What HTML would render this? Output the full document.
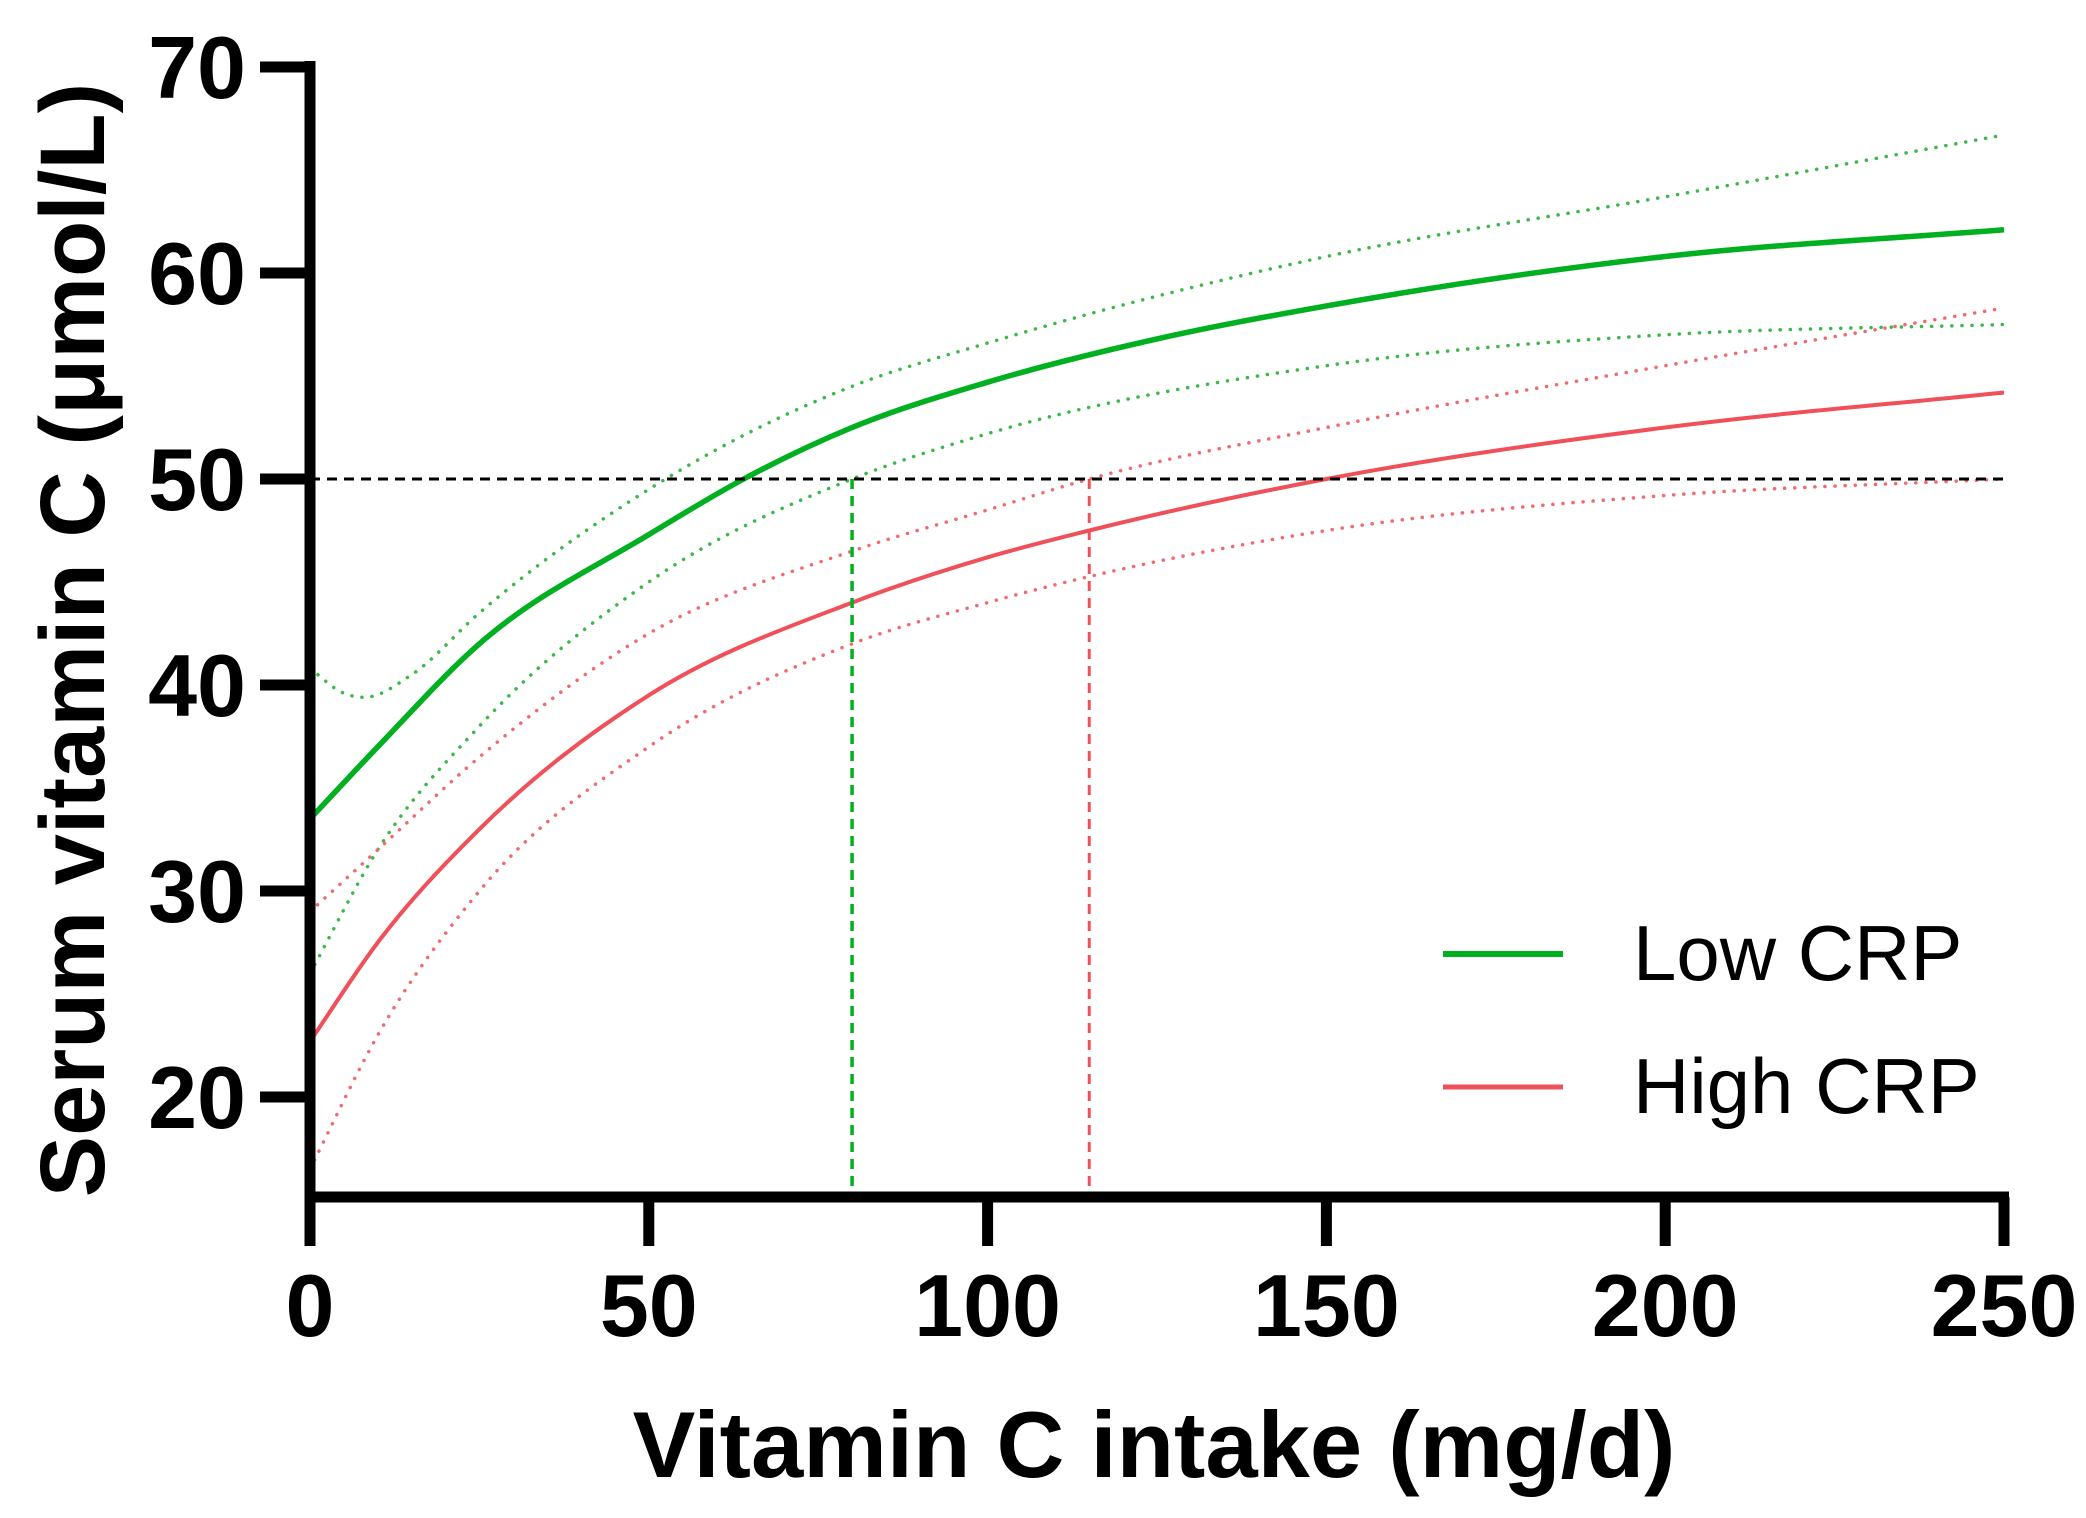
<!DOCTYPE html>
<html><head><meta charset="utf-8"><style>
html,body{margin:0;padding:0;background:#fff}
svg{display:block}
text{font-family:"Liberation Sans",Arial,sans-serif;font-weight:bold;fill:#000}
</style></head><body>
<svg id="chart" width="2086" height="1518" viewBox="0 0 2086 1518" xmlns="http://www.w3.org/2000/svg">
<g id="plot"></g>
<g id="axes"></g>
<text x="1154" y="1477" font-size="94" text-anchor="middle">Vitamin C intake (mg/d)</text>
<text transform="translate(104,640) rotate(-90)" font-size="92" text-anchor="middle">Serum vitamin C (μmol/L)</text>
<g>
<line x1="1443" y1="954" x2="1563" y2="954" stroke="#00b020" stroke-width="6"/>
<text x="1633" y="980" font-size="78" style="font-weight:normal">Low CRP</text>
<line x1="1443" y1="1087" x2="1563" y2="1087" stroke="#f0505a" stroke-width="5"/>
<text x="1633" y="1113" font-size="78" style="font-weight:normal">High CRP</text>
</g>
</svg>
<script>
const xTicks=[0,50,100,150,200,250];
const yTicks=[20,30,40,50,60,70];
const lowX=[0,10,25,50,64,80,100,125,150,200,250];
const lowY=[33.5,37,42,47.3,50,52.5,54.7,56.8,58.4,60.8,62.1];
const lowUpX=[0,5,8,15,25,50,80,100,150,200,250];
const lowUpY=[40.8,39.6,39.4,40.5,43.5,49.5,54.5,56.6,60.8,63.7,66.7];
const lowLoX=[0,10,25,50,80,100,150,200,250];
const lowLoY=[26,32,38,45,50,52.2,55.5,57,57.5];
const highX=[0,10,25,50,80,100,115,150,200,250];
const highY=[22.7,27.5,33,39.5,44,46.2,47.5,50,52.5,54.2];
const highUpX=[0,10,25,50,80,100,115,150,200,250];
const highUpY=[29,32,36.5,42.5,46.5,48.5,50,52.5,55.5,58.3];
const highLoX=[0,10,25,50,80,100,150,200,250];
const highLoY=[16.5,23,30,37,42,44,47.5,49.2,50];
const threshold=50;
const lowCross=80;
const highCross=115;

const NS="http://www.w3.org/2000/svg";
const X0=310,X1=2004,Y0=1197;
const xs=v=>X0+(v-0)/250*(X1-X0);
const ys=v=>1097-(v-20)*20.6;
function mk(tag,attrs,parent){const e=document.createElementNS(NS,tag);for(const k in attrs)e.setAttribute(k,attrs[k]);parent.appendChild(e);return e;}
function pathD(X,Y){
  const n=X.length,d=[],m=[];
  for(let i=0;i<n-1;i++)d.push((Y[i+1]-Y[i])/(X[i+1]-X[i]));
  for(let i=0;i<n;i++){
    if(i===0)m.push(d[0]);else if(i===n-1)m.push(d[n-2]);
    else if(d[i-1]*d[i]<=0)m.push(0);
    else{const h0=X[i]-X[i-1],h1=X[i+1]-X[i];m.push((d[i-1]*h1+d[i]*h0)/(h0+h1));}
  }
  let s="M"+xs(X[0])+","+ys(Y[0]);
  for(let i=0;i<n-1;i++){
    const h=X[i+1]-X[i];
    const c1x=X[i]+h/3,c1y=Y[i]+m[i]*h/3,c2x=X[i+1]-h/3,c2y=Y[i+1]-m[i+1]*h/3;
    s+=" C"+xs(c1x)+","+ys(c1y)+" "+xs(c2x)+","+ys(c2y)+" "+xs(X[i+1])+","+ys(Y[i+1]);
  }
  return s;
}
const plot=document.getElementById('plot');
const axes=document.getElementById('axes');
function curve(X,Y,color,w,dash,name){
  const el=mk('path',{d:pathD(X,Y),fill:'none',stroke:color,'stroke-width':w,'stroke-linecap':dash?'round':'butt'},plot);
  if(dash)el.setAttribute('stroke-dasharray',dash);
  
  
}
curve(lowUpX,lowUpY,'#3cb84a',3.5,'0.1 10','low-crp-upper-ci');
curve(lowLoX,lowLoY,'#3cb84a',3.5,'0.1 10','low-crp-lower-ci');
curve(highUpX,highUpY,'#f06a70',3.5,'0.1 10','high-crp-upper-ci');
curve(highLoX,highLoY,'#f06a70',3.5,'0.1 10','high-crp-lower-ci');
curve(lowX,lowY,'#00b020',5.5,null,'low-crp-line');
curve(highX,highY,'#f0505a',4,null,'high-crp-line');
let r=mk('line',{x1:xs(0),x2:xs(250),y1:ys(threshold),y2:ys(threshold),stroke:'#000','stroke-width':3,'stroke-dasharray':'10 7'},plot);


r=mk('line',{x1:xs(lowCross),x2:xs(lowCross),y1:ys(threshold),y2:Y0,stroke:'#00b020','stroke-width':3.5,'stroke-dasharray':'10 7'},plot);


r=mk('line',{x1:xs(highCross),x2:xs(highCross),y1:ys(threshold),y2:Y0,stroke:'#f0505a','stroke-width':3,'stroke-dasharray':'10 7'},plot);


let a=mk('line',{x1:X0,x2:X0,y1:ys(70)-6,y2:1246,stroke:'#000','stroke-width':11},axes);


a=mk('line',{x1:X0-5,x2:X1+5,y1:Y0,y2:Y0,stroke:'#000','stroke-width':11},axes);


xTicks.forEach(v=>{
  const t=mk('line',{x1:xs(v),x2:xs(v),y1:Y0,y2:1246,stroke:'#000','stroke-width':11},axes);
  
  
  const l=mk('text',{x:xs(v),y:1336,'font-size':88,'text-anchor':'middle'},axes);
  l.textContent=v;
  
  
});
yTicks.forEach(v=>{
  const t=mk('line',{x1:260,x2:X0,y1:ys(v),y2:ys(v),stroke:'#000','stroke-width':11},axes);
  
  
  const l=mk('text',{x:246,y:ys(v)+31,'font-size':88,'text-anchor':'end'},axes);
  l.textContent=v;
  
  
});
</script>
</body></html>
